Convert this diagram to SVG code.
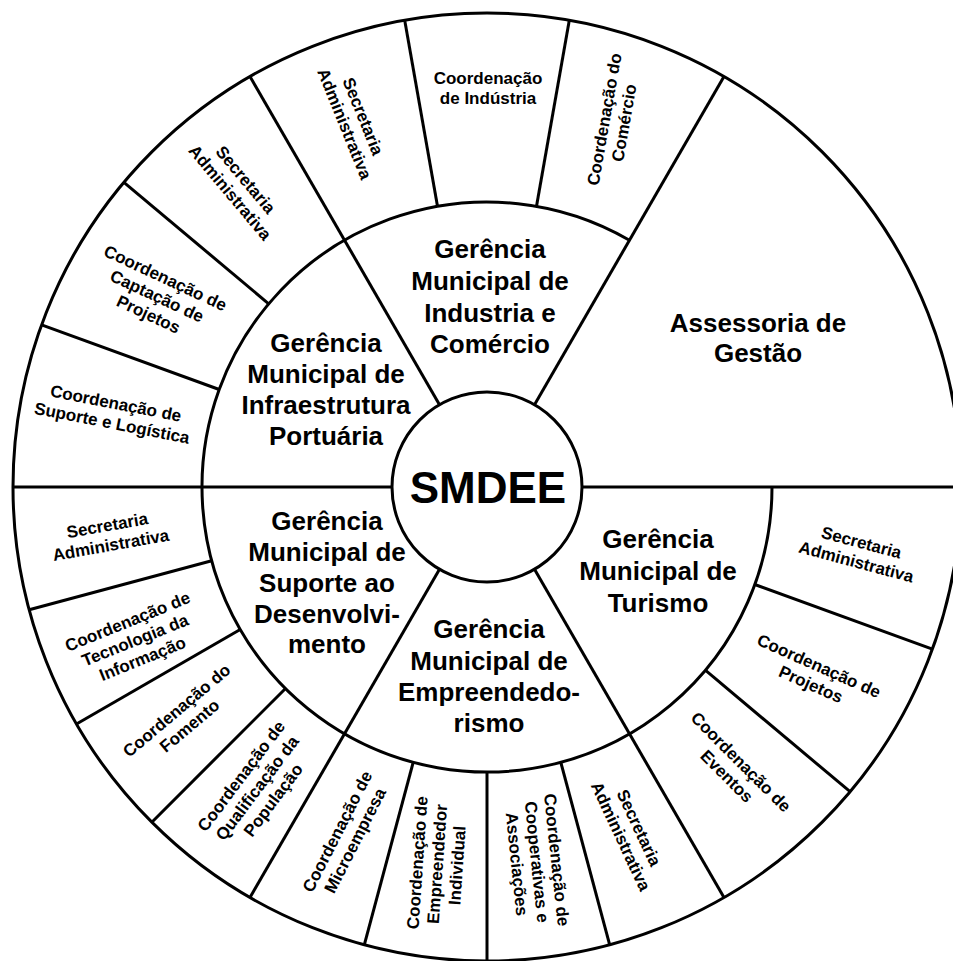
<svg xmlns="http://www.w3.org/2000/svg" width="953" height="961" viewBox="0 0 953 961">
<style>
.ln{stroke:#000;stroke-width:3;fill:none;stroke-linecap:butt}
text{font-family:"Liberation Sans",Arial,Helvetica,sans-serif;font-weight:bold;fill:#000;text-anchor:middle}
.o{font-size:17px}
.m{font-size:26px}
.s{font-size:44px}
</style>
<rect width="953" height="961" fill="#fff"/>
<g id="connectors">
<circle class="ln" cx="487" cy="487" r="474"/>
<path class="ln" d="M772,487 A285,285 0 1 1 629.5,240.2"/>
<line class="ln" x1="582" y1="487" x2="960" y2="487"/>
<line class="ln" x1="392" y1="487" x2="13" y2="487"/>
<line class="ln" x1="534.5" y1="569.3" x2="724" y2="897.5"/>
<line class="ln" x1="439.5" y1="569.3" x2="250" y2="897.5"/>
<line class="ln" x1="439.5" y1="404.7" x2="250" y2="76.5"/>
<line class="ln" x1="534.5" y1="404.7" x2="724" y2="76.5"/>
<line class="ln" x1="754.8" y1="584.5" x2="932.4" y2="649.1"/>
<line class="ln" x1="705.3" y1="670.2" x2="850.1" y2="791.7"/>
<line class="ln" x1="560.8" y1="762.3" x2="609.7" y2="944.8"/>
<line class="ln" x1="487" y1="772" x2="487" y2="961"/>
<line class="ln" x1="413.2" y1="762.3" x2="364.3" y2="944.8"/>
<line class="ln" x1="285.5" y1="688.5" x2="151.8" y2="822.2"/>
<line class="ln" x1="240.2" y1="629.5" x2="76.5" y2="724"/>
<line class="ln" x1="211.7" y1="560.8" x2="29.2" y2="609.7"/>
<line class="ln" x1="219.2" y1="389.5" x2="41.6" y2="324.9"/>
<line class="ln" x1="268.7" y1="303.8" x2="123.9" y2="182.3"/>
<line class="ln" x1="437.5" y1="206.3" x2="404.7" y2="20.2"/>
<line class="ln" x1="536.5" y1="206.3" x2="569.3" y2="20.2"/>
</g>
<g id="smdee">
<circle class="ln" cx="487" cy="487" r="95" fill="#fff"/>
<text class="s" x="488" y="503">SMDEE</text>
</g>
<g id="ger-industria"><text class="m"><tspan x="490" y="258">Gerência</tspan><tspan x="490" y="290">Municipal de</tspan><tspan x="490" y="322">Industria e</tspan><tspan x="490" y="353">Comércio</tspan></text></g>
<g id="assessoria"><text class="m"><tspan x="758" y="332">Assessoria de</tspan><tspan x="758" y="362">Gestão</tspan></text></g>
<g id="ger-infraestrutura"><text class="m"><tspan x="326" y="352">Gerência</tspan><tspan x="326" y="383">Municipal de</tspan><tspan x="326" y="414">Infraestrutura</tspan><tspan x="326" y="445">Portuária</tspan></text></g>
<g id="ger-suporte"><text class="m"><tspan x="327" y="530">Gerência</tspan><tspan x="327" y="561">Municipal de</tspan><tspan x="327" y="592">Suporte ao</tspan><tspan x="327" y="623">Desenvolvi-</tspan><tspan x="327" y="653">mento</tspan></text></g>
<g id="ger-empreendedorismo"><text class="m"><tspan x="489" y="638">Gerência</tspan><tspan x="489" y="670">Municipal de</tspan><tspan x="489" y="701">Empreendedo-</tspan><tspan x="489" y="732">rismo</tspan></text></g>
<g id="ger-turismo"><text class="m"><tspan x="658" y="548">Gerência</tspan><tspan x="658" y="580">Municipal de</tspan><tspan x="658" y="612">Turismo</tspan></text></g>
<g id="ind-secretaria" transform="translate(354,120) rotate(68)"><text class="o"><tspan x="0" y="-4">Secretaria</tspan><tspan x="0" y="16">Administrativa</tspan></text></g>
<g id="ind-coord-industria" transform="translate(488,88)"><text class="o"><tspan x="0" y="-4">Coordenação</tspan><tspan x="0" y="16">de Indústria</tspan></text></g>
<g id="ind-coord-comercio" transform="translate(614,121) rotate(-80)"><text class="o"><tspan x="0" y="-4">Coordenação do</tspan><tspan x="0" y="16">Comércio</tspan></text></g>
<g id="inf-secretaria" transform="translate(238,186) rotate(50)"><text class="o"><tspan x="0" y="-4">Secretaria</tspan><tspan x="0" y="16">Administrativa</tspan></text></g>
<g id="inf-captacao" transform="translate(157,296) rotate(25)"><text class="o"><tspan x="0" y="-14">Coordenação de</tspan><tspan x="0" y="6">Captação de</tspan><tspan x="0" y="26">Projetos</tspan></text></g>
<g id="inf-suporte" transform="translate(114,413) rotate(11)"><text class="o"><tspan x="0" y="-4">Coordenação de</tspan><tspan x="0" y="16">Suporte e Logística</tspan></text></g>
<g id="sup-secretaria" transform="translate(109,535) rotate(-10)"><text class="o"><tspan x="0" y="-4">Secretaria</tspan><tspan x="0" y="16">Administrativa</tspan></text></g>
<g id="sup-ti" transform="translate(135,640) rotate(-22)"><text class="o"><tspan x="0" y="-14">Coordenação de</tspan><tspan x="0" y="6">Tecnologia da</tspan><tspan x="0" y="26">Informação</tspan></text></g>
<g id="sup-fomento" transform="translate(183,718) rotate(-40)"><text class="o"><tspan x="0" y="-4">Coordenação do</tspan><tspan x="0" y="16">Fomento</tspan></text></g>
<g id="sup-qualificacao" transform="translate(257,788) rotate(-53)"><text class="o"><tspan x="0" y="-14">Coordenação de</tspan><tspan x="0" y="6">Qualificação da</tspan><tspan x="0" y="26">População</tspan></text></g>
<g id="emp-microempresa" transform="translate(346,836) rotate(-63)"><text class="o"><tspan x="0" y="-4">Coordenação de</tspan><tspan x="0" y="16">Microempresa</tspan></text></g>
<g id="emp-individual" transform="translate(437,864) rotate(-86)"><text class="o"><tspan x="0" y="-14">Coordenação de</tspan><tspan x="0" y="6">Empreendedor</tspan><tspan x="0" y="26">Individual</tspan></text></g>
<g id="emp-cooperativas" transform="translate(537,862) rotate(84)"><text class="o"><tspan x="0" y="-14">Coordenação de</tspan><tspan x="0" y="6">Cooperativas e</tspan><tspan x="0" y="26">Associações</tspan></text></g>
<g id="emp-secretaria" transform="translate(630,832) rotate(65)"><text class="o"><tspan x="0" y="-4">Secretaria</tspan><tspan x="0" y="16">Administrativa</tspan></text></g>
<g id="tur-eventos" transform="translate(734,769) rotate(45)"><text class="o"><tspan x="0" y="-4">Coordenação de</tspan><tspan x="0" y="16">Eventos</tspan></text></g>
<g id="tur-projetos" transform="translate(815,675) rotate(24)"><text class="o"><tspan x="0" y="-4">Coordenação de</tspan><tspan x="0" y="16">Projetos</tspan></text></g>
<g id="tur-secretaria" transform="translate(859,552) rotate(15)"><text class="o"><tspan x="0" y="-4">Secretaria</tspan><tspan x="0" y="16">Administrativa</tspan></text></g>
</svg>
